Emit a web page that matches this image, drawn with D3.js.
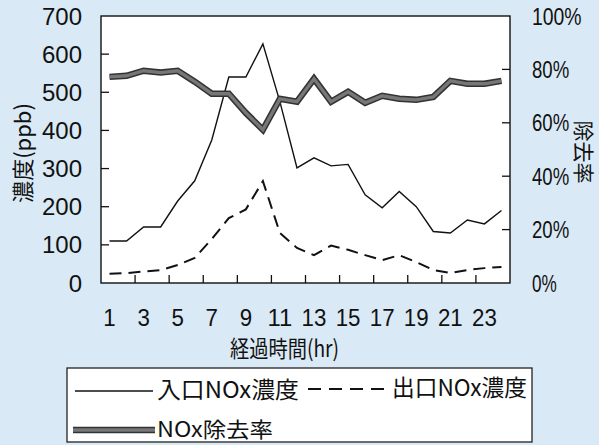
<!DOCTYPE html>
<html>
<head>
<meta charset="utf-8">
<script src="https://cdn.jsdelivr.net/npm/d3@7"></script>
<style>
  html, body { margin: 0; padding: 0; background: #d9e9f5; }
  svg { display: block; }
  text { font-family: "Liberation Sans", Arial, sans-serif; fill: #111; }
  .cjk { font-family: "Noto Sans CJK JP", "Noto Sans CJK SC", sans-serif; }
</style>
</head>
<body>
<svg id="chart" width="599" height="445"></svg>
<script>
// Hourly NOx measurements over 24 h
const hours = [1,2,3,4,5,6,7,8,9,10,11,12,13,14,15,16,17,18,19,20,21,22,23,24];
const inletNOx  = [110,110,147,147,215,268,375,540,540,627,475,302,328,307,311,231,197,240,200,135,131,165,155,190];
const outletNOx = [24,26,30,34,47,66,115,170,193,267,131,92,73,98,87,73,60,73,55,34,26,34,39,42];
const removalPct = [77.2,77.6,79.5,78.8,79.5,75.4,70.9,70.9,63.7,57.4,69.0,67.9,76.5,67.9,71.6,67.5,70.1,69.0,68.6,69.7,75.7,74.6,74.6,75.7];

const leftTicks = [0,100,200,300,400,500,600,700];
const rightTicks = [0,20,40,60,80,100];
const xTickLabels = [1,3,5,7,9,11,13,15,17,19,21,23];

const legendLabels = ["入口NOx濃度", "出口NOx濃度", "NOx除去率"];

const svg = d3.select("#chart");
const plot = {left: 101, right: 510, top: 16, bottom: 283};

const x = d3.scaleBand().domain(hours).range([plot.left, plot.right]).padding(0);
const bw = x.bandwidth();
const cx = h => x(h) + bw / 2;
const yL = d3.scaleLinear().domain([0, 700]).range([plot.bottom, plot.top]);
const yR = d3.scaleLinear().domain([0, 100]).range([plot.bottom, plot.top]);

// plot area
svg.append("rect")
  .attr("x", plot.left).attr("y", plot.top)
  .attr("width", plot.right - plot.left).attr("height", plot.bottom - plot.top)
  .attr("fill", "#fff");

// inward ticks
const tickG = svg.append("g").attr("stroke", "#111").attr("stroke-width", 1.3);
leftTicks.slice(1, -1).forEach(v => {
  tickG.append("line").attr("x1", plot.left).attr("x2", plot.left + 8)
    .attr("y1", yL(v)).attr("y2", yL(v));
});
rightTicks.slice(1, -1).forEach(v => {
  tickG.append("line").attr("x1", plot.right - 8).attr("x2", plot.right)
    .attr("y1", yR(v)).attr("y2", yR(v));
});
hours.filter(h => h % 2 === 1 && h > 1).forEach(h => {
  tickG.append("line").attr("x1", x(h)).attr("x2", x(h))
    .attr("y1", plot.bottom).attr("y2", plot.bottom - 8);
});

// series
const lineL = d3.line().x((d, i) => cx(hours[i])).y(d => yL(d));
const lineR = d3.line().x((d, i) => cx(hours[i])).y(d => yR(d));

svg.append("path").datum(inletNOx).attr("d", lineL)
  .attr("fill", "none").attr("stroke", "#111").attr("stroke-width", 1.4)
  .attr("stroke-linejoin", "miter");
svg.append("path").datum(outletNOx).attr("d", lineL)
  .attr("fill", "none").attr("stroke", "#111").attr("stroke-width", 2)
  .attr("stroke-dasharray", "12,7");
svg.append("path").datum(removalPct).attr("d", lineR)
  .attr("fill", "none").attr("stroke", "#333").attr("stroke-width", 6.5)
  .attr("stroke-linejoin", "miter");
svg.append("path").datum(removalPct).attr("d", lineR)
  .attr("fill", "none").attr("stroke", "#777").attr("stroke-width", 3.4)
  .attr("stroke-linejoin", "miter");

// frame
svg.append("rect")
  .attr("x", plot.left).attr("y", plot.top)
  .attr("width", plot.right - plot.left).attr("height", plot.bottom - plot.top)
  .attr("fill", "none").attr("stroke", "#111").attr("stroke-width", 1.4);

// axis labels
svg.append("g").selectAll("text").data(leftTicks).join("text")
  .attr("x", 82).attr("y", d => yL(d)).attr("dy", "0.36em")
  .attr("text-anchor", "end").attr("font-size", 24).text(d => d);
svg.append("g").selectAll("text").data(rightTicks).join("text")
  .attr("x", 532).attr("y", d => yR(d)).attr("dy", "0.36em")
  .attr("text-anchor", "start").attr("font-size", 24)
  .attr("textLength", d => 12.4 * (String(d).length + 1))
  .attr("lengthAdjust", "spacingAndGlyphs")
  .text(d => d + "%");
svg.append("g").selectAll("text").data(xTickLabels).join("text")
  .attr("x", d => cx(d)).attr("y", 317).attr("dy", "0.36em")
  .attr("text-anchor", "middle").attr("font-size", 24)
  .attr("textLength", d => 12.4 * String(d).length)
  .attr("lengthAdjust", "spacingAndGlyphs")
  .text(d => d);

// axis titles
svg.append("text").attr("class", "cjk")
  .attr("transform", "translate(23,153) rotate(-90)")
  .attr("text-anchor", "middle").attr("dy", "0.36em").attr("font-size", 22)
  .text("濃度(ppb)");
svg.append("text").attr("class", "cjk")
  .attr("transform", "translate(584,152) rotate(90)")
  .attr("text-anchor", "middle").attr("dy", "0.36em").attr("font-size", 21)
  .text("除去率");
svg.append("text").attr("class", "cjk")
  .attr("x", 230).attr("y", 349).attr("dy", "0.36em")
  .attr("font-size", 23).attr("textLength", 109).attr("lengthAdjust", "spacingAndGlyphs")
  .text("経過時間(hr)");

// legend
const lg = svg.append("g");
lg.append("rect").attr("x", 67).attr("y", 368).attr("width", 465).attr("height", 74)
  .attr("fill", "#fff").attr("stroke", "#222").attr("stroke-width", 1.3);
lg.append("line").attr("x1", 75).attr("x2", 153).attr("y1", 391).attr("y2", 391)
  .attr("stroke", "#111").attr("stroke-width", 1.4);
lg.append("text").attr("class", "cjk").attr("x", 157).attr("y", 390).attr("dy", "0.36em")
  .attr("font-size", 23).attr("textLength", 142).attr("lengthAdjust", "spacingAndGlyphs")
  .text(legendLabels[0]);
lg.append("line").attr("x1", 308).attr("x2", 388).attr("y1", 389).attr("y2", 389)
  .attr("stroke", "#111").attr("stroke-width", 2).attr("stroke-dasharray", "13,8");
lg.append("text").attr("class", "cjk").attr("x", 392).attr("y", 388).attr("dy", "0.36em")
  .attr("font-size", 23).attr("textLength", 135).attr("lengthAdjust", "spacingAndGlyphs")
  .text(legendLabels[1]);
lg.append("line").attr("x1", 73).attr("x2", 155).attr("y1", 430).attr("y2", 430)
  .attr("stroke", "#333").attr("stroke-width", 6.5);
lg.append("line").attr("x1", 73).attr("x2", 155).attr("y1", 430).attr("y2", 430)
  .attr("stroke", "#777").attr("stroke-width", 3.4);
lg.append("text").attr("class", "cjk").attr("x", 157).attr("y", 429).attr("dy", "0.36em")
  .attr("font-size", 21).attr("textLength", 116).attr("lengthAdjust", "spacingAndGlyphs")
  .text(legendLabels[2]);
</script>
</body>
</html>
